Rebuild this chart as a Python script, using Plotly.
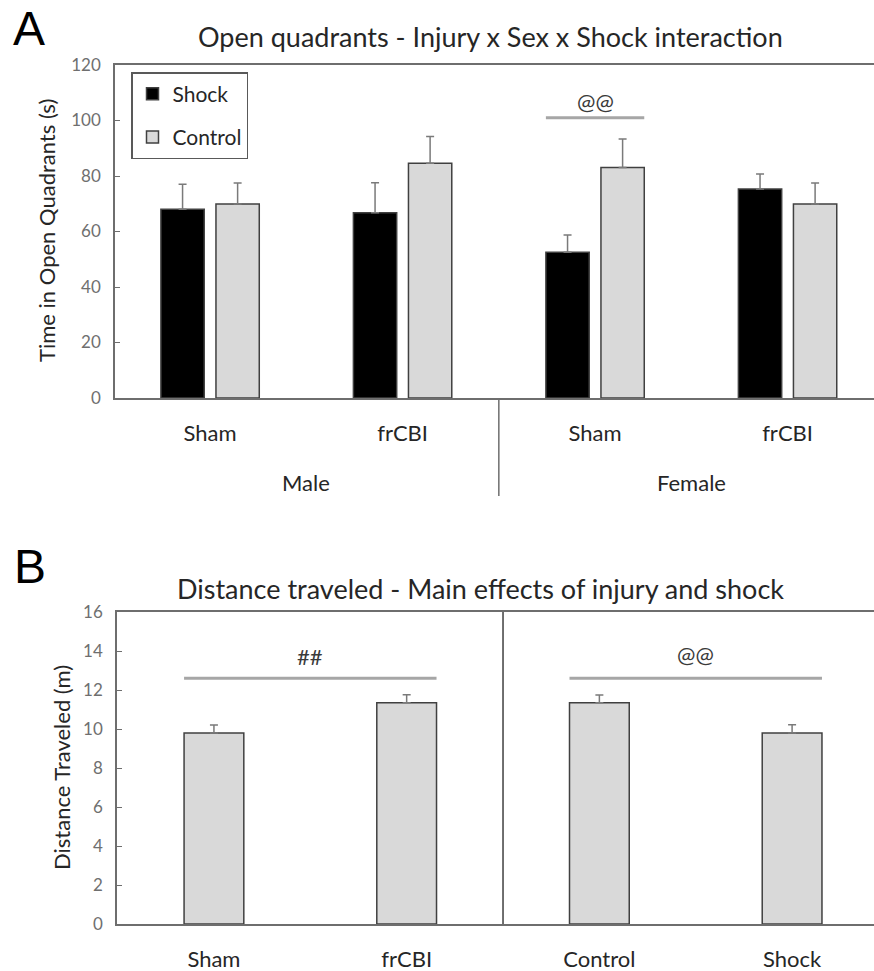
import plotly.graph_objects as go

# ---- Panel A: time in open quadrants (s), injury x sex x shock ----
groups_a = ["Sham", "frCBI", "Sham", "frCBI"]
sex_labels = ["Male", "Female"]
shock_mean = [68.0, 66.8, 52.5, 75.3]
shock_sem = [9.0, 10.8, 6.2, 5.4]
control_mean = [69.9, 84.6, 83.1, 69.9]
control_sem = [7.6, 9.6, 10.2, 7.6]
sig_a_text = ["@@"]
sig_a_group = [2]
sig_a_line_y = [101.0]
sig_a_text_y = [106.7]

# ---- Panel B: distance traveled (m), main effects of injury and shock ----
groups_b = ["Sham", "frCBI", "Control", "Shock"]
dist_mean = [9.8, 11.35, 11.35, 9.8]
dist_sem = [0.40, 0.41, 0.39, 0.42]
sig_b_text = ["##", "@@"]
sig_b_pair = [(0, 1), (2, 3)]
sig_b_line_y = [12.6, 12.6]
sig_b_text_y = [13.7, 13.8]

W, H = 874, 971
FONT = "Lato"
DARK = "#262626"
AXIS = "#6e6e6e"
TICK = "#6f6f6f"
OUTLINE = "#404040"
GREY_FILL = "#d9d9d9"
ERR = "#7a7a7a"
SIG = "#a6a6a6"

BAR_W_A = 0.225
SHOCK_OFF = -0.2555
CTRL_OFF = 0.0305
BAR_W_B = 0.31


def px_to_paper_y(py):
    return 1 - py / H


def err(vals):
    return dict(type="data", symmetric=False, array=vals, arrayminus=[0] * len(vals),
                color=ERR, thickness=1.5, width=4)


def label(text, x, y, size, color=DARK, family=FONT, xref="paper", yref="paper", angle=0):
    return dict(text=text, xref=xref, yref=yref, x=x, y=y, showarrow=False,
                xanchor="center", yanchor="middle", textangle=angle,
                font=dict(family=family, size=size, color=color))


xa = list(range(len(groups_a)))
xb = list(range(len(groups_b)))

fig = go.Figure()
fig.add_trace(go.Bar(
    x=xa, y=shock_mean, name="Shock", width=BAR_W_A, offset=SHOCK_OFF,
    marker=dict(color="#000000", line=dict(color=OUTLINE, width=1.5)),
    error_y=err(shock_sem), legendgroup="shock", xaxis="x", yaxis="y",
))
fig.add_trace(go.Bar(
    x=xa, y=control_mean, name="Control", width=BAR_W_A, offset=CTRL_OFF,
    marker=dict(color=GREY_FILL, line=dict(color=OUTLINE, width=1.5)),
    error_y=err(control_sem), legendgroup="control", xaxis="x", yaxis="y",
))
fig.add_trace(go.Bar(
    x=xb, y=dist_mean, width=BAR_W_B, showlegend=False,
    marker=dict(color=GREY_FILL, line=dict(color=OUTLINE, width=1.5)),
    error_y=err(dist_sem), xaxis="x2", yaxis="y2",
))

common_x = dict(showline=True, mirror=True, linecolor=AXIS, linewidth=1.5, automargin=False,
                ticks="", showgrid=False, zeroline=False, ticklabelstandoff=15,
                tickfont=dict(family=FONT, size=22, color=DARK))
common_y = dict(showline=True, linecolor=AXIS, linewidth=1.5, ticks="inside", automargin=False,
                ticklen=5, tickcolor=AXIS, tickwidth=1.2, showgrid=False, zeroline=False,
                ticklabelstandoff=9, tickfont=dict(family=FONT, size=17, color=TICK))

fig.update_layout(
    width=W, height=H,
    margin=dict(l=0, r=0, t=0, b=0, pad=0),
    paper_bgcolor="white", plot_bgcolor="white",
    barmode="overlay",
    xaxis=dict(domain=[115 / W, 1], range=[-0.494, 3.449], anchor="y",
               tickvals=xa, ticktext=groups_a, **common_x),
    yaxis=dict(domain=[px_to_paper_y(398), px_to_paper_y(65)], range=[0, 120], dtick=20,
               anchor="x", **common_y),
    xaxis2=dict(domain=[117 / W, 1], range=[-0.503, 3.425], anchor="y2",
                tickvals=xb, ticktext=groups_b, **common_x),
    yaxis2=dict(domain=[px_to_paper_y(924), px_to_paper_y(612)], range=[0, 16], dtick=2,
                anchor="x2", **common_y),
    showlegend=True,
    legend=dict(x=131 / W, y=px_to_paper_y(72), xanchor="left", yanchor="top",
                bgcolor="white", bordercolor="#595959", borderwidth=1.5,
                font=dict(family=FONT, size=21, color=DARK),
                tracegroupgap=13, traceorder="grouped"),
)

shapes = []
annotations = []

# group dividers below the panel A axis (Male | Female)
for xv in [-0.5, 1.5, 3.5]:
    shapes.append(dict(type="line", xref="x", yref="paper", x0=xv, x1=xv,
                       y0=px_to_paper_y(398), y1=px_to_paper_y(496),
                       line=dict(color=AXIS, width=1.5)))
for i, lab in enumerate(sex_labels):
    annotations.append(label(lab, 2 * i + 0.5, px_to_paper_y(482), 22, xref="x"))

# divider between injury and shock effects in panel B
shapes.append(dict(type="line", xref="x2", yref="y2 domain", x0=1.5, x1=1.5, y0=0, y1=1,
                   line=dict(color="#404040", width=1.5)))

# significance markers, panel A
for t, g, ly, ty in zip(sig_a_text, sig_a_group, sig_a_line_y, sig_a_text_y):
    shapes.append(dict(type="line", xref="x", yref="y", x0=g + SHOCK_OFF,
                       x1=g + CTRL_OFF + BAR_W_A, y0=ly, y1=ly,
                       line=dict(color=SIG, width=3)))
    annotations.append(label(t, g, ty, 22, color="#3a3a3a", xref="x", yref="y"))

# significance markers, panel B
for t, (a, b), ly, ty in zip(sig_b_text, sig_b_pair, sig_b_line_y, sig_b_text_y):
    shapes.append(dict(type="line", xref="x2", yref="y2", x0=a - BAR_W_B / 2,
                       x1=b + BAR_W_B / 2, y0=ly, y1=ly,
                       line=dict(color=SIG, width=3)))
    annotations.append(label(t, (a + b) / 2, ty, 22, color="#3a3a3a", xref="x2", yref="y2"))

# titles, axis titles and panel letters
annotations += [
    label("Open quadrants - Injury x Sex x Shock interaction", 490 / W, px_to_paper_y(37), 27),
    label("Distance traveled - Main effects of injury and shock", 480 / W, px_to_paper_y(588), 27),
    label("Time in Open Quadrants (s)", 47 / W, px_to_paper_y(231), 22, angle=-90),
    label("Distance Traveled (m)", 61 / W, px_to_paper_y(768), 22, angle=-90),
    label("A", 29 / W, px_to_paper_y(28), 48, color="#000000", family="Liberation Sans"),
    label("B", 30 / W, px_to_paper_y(566), 48, color="#000000", family="Liberation Sans"),
]

fig.update_layout(shapes=shapes, annotations=annotations)
fig.write_html("out.html")
